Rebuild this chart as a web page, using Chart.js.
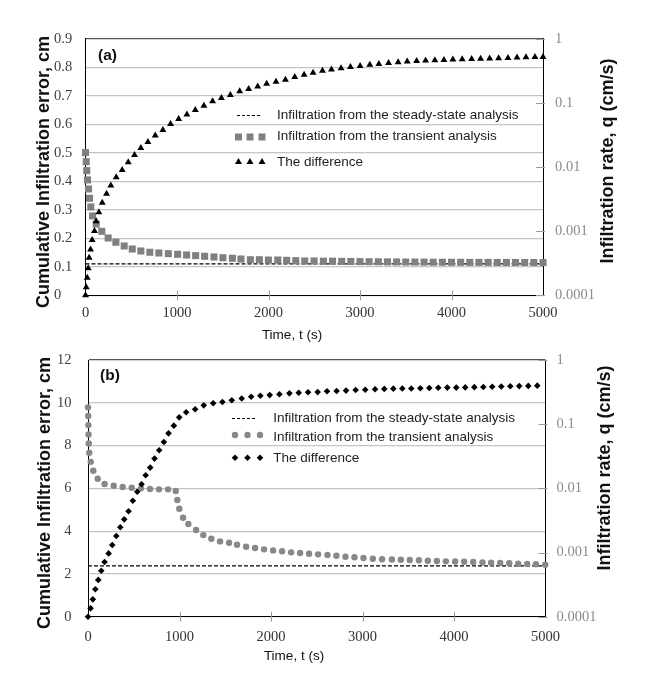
<!DOCTYPE html>
<html>
<head>
<meta charset="utf-8">
<script src="https://cdn.jsdelivr.net/npm/chart.js@4.4.1/dist/chart.umd.min.js"></script>
<style>
  body { margin: 0; background: #fff; }
  .box { position: relative; width: 648px; }
</style>
</head>
<body>
<div class="box" style="height:345px"><canvas id="chartA"></canvas></div>
<div class="box" style="height:336px"><canvas id="chartB"></canvas></div>
<script>
// axis ticks
var timeTicks = [0, 1000, 2000, 3000, 4000, 5000]
var rateTicks = [0.0001, 0.001, 0.01, 0.1, 1]
var errTicksA = [0, 0.1, 0.2, 0.3, 0.4, 0.5, 0.6, 0.7, 0.8, 0.9]
var errTicksB = [0, 2, 4, 6, 8, 10, 12]

var legendNames = ["Infiltration from the steady-state analysis", "Infiltration from the transient analysis", "The difference"]
var steadyTime = [0, 5000]

// (a) cumulative error (left axis) and rates (right, log axis)
var timeDiffA = [0, 8, 19, 30, 40, 55, 73, 98, 117, 146, 183, 230, 277, 336, 401, 467, 536, 605, 682, 762, 846, 930, 1018, 1108, 1200, 1294, 1389, 1485, 1583, 1685, 1783, 1882, 1980, 2082, 2185, 2287, 2389, 2487, 2590, 2688, 2793, 2896, 3001, 3107, 3206, 3312, 3417, 3516, 3619, 3717, 3818, 3917, 4015, 4117, 4220, 4318, 4417, 4515, 4617, 4716, 4814, 4912, 5000]
var diffA = [0, 0.028, 0.062, 0.095, 0.132, 0.161, 0.194, 0.226, 0.26, 0.291, 0.325, 0.356, 0.385, 0.414, 0.44, 0.467, 0.492, 0.517, 0.538, 0.561, 0.58, 0.601, 0.619, 0.634, 0.65, 0.665, 0.681, 0.692, 0.703, 0.716, 0.724, 0.733, 0.742, 0.749, 0.756, 0.766, 0.774, 0.781, 0.788, 0.792, 0.797, 0.801, 0.805, 0.809, 0.812, 0.815, 0.818, 0.82, 0.822, 0.824, 0.825, 0.826, 0.827, 0.828, 0.829, 0.83, 0.831, 0.832, 0.833, 0.834, 0.835, 0.836, 0.836]
var timeRateA = [0, 8, 14, 22, 33, 44, 58, 77, 117, 178, 248, 332, 423, 511, 605, 703, 802, 905, 1007, 1105, 1204, 1302, 1404, 1502, 1605, 1699, 1802, 1900, 1999, 2101, 2199, 2298, 2396, 2498, 2600, 2700, 2800, 2900, 3000, 3100, 3200, 3300, 3400, 3500, 3600, 3700, 3800, 3900, 4000, 4100, 4200, 4300, 4400, 4500, 4600, 4700, 4800, 4900, 5000]
var rateA = [0.0168, 0.0121, 0.00879, 0.0063, 0.00455, 0.00326, 0.00239, 0.00173, 0.00129, 0.000995, 0.000783, 0.000672, 0.000588, 0.000527, 0.000491, 0.000469, 0.000457, 0.000446, 0.000436, 0.000425, 0.000415, 0.000406, 0.000396, 0.000386, 0.000378, 0.000368, 0.000359, 0.000359, 0.000355, 0.000355, 0.000351, 0.000347, 0.000343, 0.000343, 0.00034, 0.00034, 0.000338, 0.000336, 0.000335, 0.000334, 0.000333, 0.000332, 0.000331, 0.00033, 0.00033, 0.000329, 0.000328, 0.000328, 0.000327, 0.000327, 0.000326, 0.000326, 0.000326, 0.000325, 0.000325, 0.000325, 0.000325, 0.000324, 0.000324]
var steadyA = [0.00031, 0.00031]

// (b)
var timeDiffB = [0, 28, 53, 80, 112, 145, 181, 225, 265, 309, 353, 396, 443, 490, 538, 585, 630, 680, 727, 778, 829, 880, 938, 997, 1073, 1171, 1265, 1368, 1469, 1571, 1680, 1783, 1884, 1986, 2092, 2201, 2303, 2405, 2510, 2612, 2717, 2820, 2925, 3030, 3137, 3238, 3337, 3435, 3533, 3632, 3730, 3828, 3927, 4025, 4123, 4222, 4320, 4418, 4517, 4615, 4713, 4812, 4910]
var diffB = [0, 0.39, 0.81, 1.28, 1.72, 2.15, 2.56, 2.96, 3.35, 3.77, 4.18, 4.55, 4.93, 5.42, 5.84, 6.19, 6.61, 6.97, 7.39, 7.78, 8.17, 8.57, 8.93, 9.32, 9.56, 9.7, 9.88, 9.98, 10.04, 10.12, 10.2, 10.28, 10.33, 10.36, 10.4, 10.44, 10.47, 10.49, 10.5, 10.54, 10.55, 10.57, 10.6, 10.61, 10.63, 10.65, 10.66, 10.67, 10.67, 10.68, 10.69, 10.7, 10.71, 10.71, 10.72, 10.73, 10.74, 10.75, 10.76, 10.77, 10.78, 10.79, 10.8]
var timeRateB = [0, 2, 4, 6, 8, 14, 30, 58, 106, 182, 281, 379, 478, 579, 678, 776, 875, 959, 976, 998, 1039, 1097, 1181, 1260, 1348, 1443, 1542, 1629, 1728, 1826, 1924, 2023, 2121, 2220, 2318, 2416, 2515, 2617, 2715, 2814, 2912, 3011, 3113, 3214, 3321, 3419, 3517, 3616, 3714, 3813, 3911, 4013, 4111, 4210, 4311, 4406, 4505, 4604, 4702, 4800, 4895, 4997]
var rateB = [0.183, 0.134, 0.0968, 0.0693, 0.0502, 0.0359, 0.0259, 0.0188, 0.0141, 0.01167, 0.01097, 0.01047, 0.0102, 0.01, 0.00975, 0.00964, 0.00964, 0.00908, 0.00658, 0.00481, 0.00348, 0.00278, 0.00224, 0.00187, 0.00164, 0.00149, 0.00142, 0.00132, 0.00123, 0.001175, 0.00112, 0.00108, 0.001044, 0.001007, 0.000982, 0.000957, 0.000937, 0.000914, 0.000891, 0.000861, 0.000842, 0.000821, 0.0008, 0.000784, 0.000778, 0.000773, 0.000764, 0.000756, 0.000745, 0.000738, 0.000729, 0.000725, 0.00072, 0.000711, 0.000703, 0.000694, 0.000686, 0.000679, 0.00067, 0.000662, 0.000655, 0.000645]
var steadyB = [0.00062, 0.00062]

var serif = '"Liberation Serif", "Times New Roman", serif'
var sans = '"Liberation Sans", Arial, sans-serif'

function pts(xs, ys) {
    return xs.map(function(x, i){ return {x: x, y: ys[i]} })
}

function marker(ctx, kind, x, y) {
    ctx.beginPath()
    if (kind == 'rect') {
        ctx.fillStyle = '#808080'
        ctx.rect(x - 3.5, y - 3.5, 7, 7)
    } else if (kind == 'triangle') {
        ctx.fillStyle = '#000'
        ctx.moveTo(x, y - 4); ctx.lineTo(x + 3.5, y + 2); ctx.lineTo(x - 3.5, y + 2); ctx.closePath()
    } else if (kind == 'circle') {
        ctx.fillStyle = '#888'
        ctx.arc(x, y, 3.2, 0, Math.PI * 2)
    } else {
        ctx.fillStyle = '#000'
        ctx.moveTo(x, y - 3.3); ctx.lineTo(x + 3.3, y); ctx.lineTo(x, y + 3.3); ctx.lineTo(x - 3.3, y); ctx.closePath()
    }
    ctx.fill()
}

// tick marks across the axes, titles, panel letter and legend
function overlay(o) {
    return {
        id: 'overlay',
        afterDraw: function(chart) {
            var ctx = chart.ctx, a = chart.chartArea
            var sx = chart.scales.x, sq = chart.scales.q
            ctx.save()
            ctx.strokeStyle = '#9a9a9a'
            ctx.lineWidth = 1
            timeTicks.forEach(function(t){
                if (t == 0 || t == 5000) return
                var px = Math.round(sx.getPixelForValue(t)) + 0.5
                ctx.beginPath(); ctx.moveTo(px, a.bottom - 5); ctx.lineTo(px, a.bottom + 5); ctx.stroke()
            })
            rateTicks.forEach(function(v){
                var py = Math.round(sq.getPixelForValue(v)) + 0.5
                ctx.beginPath(); ctx.moveTo(a.right - 7, py); ctx.lineTo(a.right + 2, py); ctx.stroke()
            })

            ctx.fillStyle = '#111'
            ctx.textBaseline = 'middle'
            o.texts.forEach(function(t){
                ctx.save()
                ctx.translate(t.x, t.y)
                if (t.rot) ctx.rotate(t.rot)
                ctx.font = t.font
                ctx.textAlign = t.align || 'center'
                ctx.fillText(t.text, 0, 0)
                ctx.restore()
            })

            var L = o.legend
            ctx.strokeStyle = '#000'
            ctx.lineWidth = 1
            ctx.setLineDash([3, 2])
            ctx.beginPath(); ctx.moveTo(L.dash[0], L.rows[0] + 0.5); ctx.lineTo(L.dash[1], L.rows[0] + 0.5); ctx.stroke()
            ctx.setLineDash([])
            L.xs.forEach(function(x){ marker(ctx, L.rateKind, x, L.rows[1]) })
            L.xs.forEach(function(x){ marker(ctx, L.diffKind, x, L.rows[2]) })
            ctx.font = '13.5px ' + sans
            ctx.fillStyle = '#222'
            ctx.textAlign = 'left'
            for (var i = 0; i < 3; i++) ctx.fillText(legendNames[i], L.tx, L.ty[i])
            ctx.restore()
        }
    }
}

function noPad(s) {
    s.paddingTop = 0
    s.paddingBottom = 0
}

function buildChart(id, o) {
    var ctx = document.getElementById(id).getContext('2d')
    return new Chart(ctx, {
        type: 'scatter',
        data: {
            datasets: [
                { label: legendNames[2], data: pts(o.diffT, o.diff), yAxisID: 'y', pointStyle: o.diffStyle, pointRadius: o.diffR,
                  backgroundColor: '#000', borderWidth: 0, clip: false },
                { label: legendNames[1], data: pts(o.rateT, o.rate), yAxisID: 'q', pointStyle: o.rateStyle, pointRadius: o.rateR,
                  backgroundColor: o.rateColor, borderWidth: 0, clip: false },
                { label: legendNames[0], data: pts(steadyTime, o.steady), yAxisID: 'q', showLine: true, borderColor: '#000',
                  borderWidth: 1.2, borderDash: [4, 2], pointRadius: 0, fill: false }
            ]
        },
        options: {
            responsive: true,
            maintainAspectRatio: false,
            animation: false,
            events: [],
            layout: { padding: { top: o.top, left: o.padLeft, right: 0, bottom: 0 } },
            plugins: { legend: { display: false }, tooltip: { enabled: false } },
            scales: {
                x: {
                    type: 'linear', min: 0, max: 5000,
                    afterBuildTicks: function(s){ s.ticks = timeTicks.map(function(v){ return {value: v} }) },
                    afterFit: function(s){ s.height = o.xh },
                    grid: { display: false, drawTicks: false },
                    border: { display: true, color: '#000', width: 1 },
                    ticks: { padding: o.xpad, color: '#333', maxRotation: 0, autoSkip: false,
                             font: { family: serif, size: 14.5 }, callback: function(v){ return String(v) } }
                },
                y: {
                    position: 'left', min: 0, max: o.leftTicks[o.leftTicks.length - 1],
                    afterBuildTicks: function(s){ s.ticks = o.leftTicks.map(function(v){ return {value: v} }) },
                    afterFit: function(s){ s.width = o.lw; noPad(s) },
                    grid: { drawTicks: false, lineWidth: 1.2,
                            color: function(c){ return c.index == o.leftTicks.length - 1 ? '#555' : '#c4c4c4' } },
                    border: { display: true, color: '#000', width: 1 },
                    ticks: { crossAlign: o.lalign, padding: o.lpad, color: '#404040',
                             font: { family: serif, size: 14.5 }, callback: function(v){ return String(v) } }
                },
                q: {
                    type: 'logarithmic', position: 'right', min: 0.0001, max: 1,
                    afterBuildTicks: function(s){ s.ticks = rateTicks.map(function(v){ return {value: v} }) },
                    afterFit: function(s){ s.width = o.rw; noPad(s) },
                    grid: { display: false, drawTicks: false },
                    border: { display: true, color: '#000', width: 1 },
                    ticks: { padding: o.rpad, color: '#8c8c8c',
                             font: { family: serif, size: 14.5 }, callback: function(v){ return String(v) } }
                }
            }
        },
        plugins: [overlay(o)]
    })
}

var leftTitle = "Cumulative Infiltration error, cm"
var rightTitle = "Infiltration rate, q (cm/s)"
var xTitle = "Time, t (s)"
var boldTitle = 'bold 18px ' + sans

buildChart('chartA', {
    diffT: timeDiffA, diff: diffA, diffStyle: 'triangle', diffR: 4,
    rateT: timeRateA, rate: rateA, rateStyle: 'rect', rateR: 5, rateColor: '#808080',
    steady: steadyA, leftTicks: errTicksA,
    top: 38.8, padLeft: 54, xh: 49.7, lw: 31.5, rw: 105, xpad: 9, lpad: 13, lalign: 'far', rpad: 12,
    texts: [
        { text: '(a)', x: 98, y: 56, font: 'bold 15.5px ' + sans, align: 'left' },
        { text: leftTitle, x: 44, y: 172, rot: -Math.PI / 2, font: boldTitle },
        { text: rightTitle, x: 608, y: 161, rot: -Math.PI / 2, font: boldTitle },
        { text: xTitle, x: 292, y: 335, font: '13.5px ' + sans }
    ],
    legend: { dash: [237, 262], rows: [115, 137, 162], xs: [238.5, 250, 262], rateKind: 'rect', diffKind: 'triangle',
              tx: 277, ty: [115, 136.5, 162] }
})

buildChart('chartB', {
    diffT: timeDiffB, diff: diffB, diffStyle: 'rectRot', diffR: 3.3,
    rateT: timeRateB, rate: rateB, rateStyle: 'circle', rateR: 3.2, rateColor: '#888888',
    steady: steadyB, leftTicks: errTicksB,
    top: 15, padLeft: 0, xh: 64.3, lw: 88, rw: 102.5, xpad: 11.3, lpad: 16.5, lalign: 'near', rpad: 11,
    texts: [
        { text: '(b)', x: 100, y: 31, font: 'bold 15.5px ' + sans, align: 'left' },
        { text: leftTitle, x: 45.5, y: 148, rot: -Math.PI / 2, font: boldTitle },
        { text: rightTitle, x: 605.5, y: 123, rot: -Math.PI / 2, font: boldTitle },
        { text: xTitle, x: 294, y: 311, font: '13.5px ' + sans }
    ],
    legend: { dash: [232, 257], rows: [73, 90, 112.7], xs: [235, 247.5, 260], rateKind: 'circle', diffKind: 'diamond',
              tx: 273.3, ty: [73.3, 92.3, 113] }
})
</script>
</body>
</html>
